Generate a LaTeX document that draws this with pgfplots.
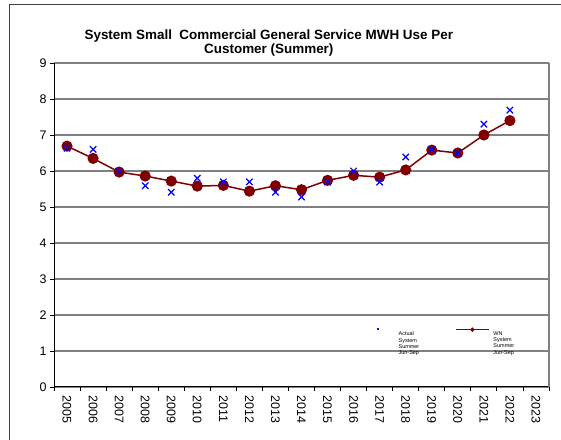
\documentclass[border=0pt]{standalone}
\usepackage{fontspec}
\setmainfont{Liberation Sans}
\usepackage{pgfplots}
\pgfplotsset{compat=1.18}
\definecolor{wnred}{RGB}{128,0,0}
\definecolor{gridgray}{RGB}{128,128,128}

\begin{document}
\begin{tikzpicture}
    \useasboundingbox (0bp,0bp) rectangle (561bp,440bp);
    % outer chart frame (right and bottom edges are cut off)
    \draw[black!75, line width=1bp] (9.5bp,-5bp) -- (9.5bp,435bp) -- (570bp,435bp);
    \begin{axis}[
            at={(54bp,53bp)}, anchor=south west,
            scale only axis,
            width=495bp, height=324bp,
            xmin=2004.5, xmax=2023.5,
            ymin=0, ymax=9,
            xtick={2005,...,2023},
            minor xtick={2004.5,2005.5,...,2023.5},
            ytick={0,...,9},
            major x tick style={draw=none},
            tick align=outside,
            major tick length=4bp,
            minor tick length=4bp,
            tick style={black, line width=0.8bp},
            ymajorgrids,
            major grid style={gridgray, line width=1.5bp},
            axis x line*=bottom,
            axis y line*=left,
            axis line style={black, line width=1bp, -},
            xticklabel style={rotate=-90, anchor=west, xshift=1bp},
            x tick label style={/pgf/number format/1000 sep={}},
            ticklabel style={font=\fontsize{12.5}{14}\selectfont},
            /pgf/number format/assume math mode=true,
            title={\bfseries System Small\ \ Commercial General Service MWH Use Per\\\bfseries Customer (Summer)},
            title style={at={(0.434,1)}, anchor=south, yshift=-2.5bp, align=center,
                font=\fontsize{13.5}{14}\selectfont},
            legend columns=2,
            legend style={at={(0.615,0.19)}, anchor=north west, draw=none, fill=none,
                font=\fontsize{5.5}{6.2}\selectfont,
                cells={anchor=north west, align=left},
                column sep=2bp,
                /tikz/every even column/.append style={column sep=34bp}},
            clip=false,
        ]
        % legend key for the actual values (the marks are drawn last, on top)
        \addlegendimage{legend image code/.code={
                \path[draw=none] (0bp,0bp) -- (33bp,0bp);
                \fill[blue, draw=none] (15.5bp,-0.8bp) rectangle (17.5bp,1.2bp);}}
        % WN System Summer Jun-Sep
        \addplot[wnred, line width=1.5bp, mark=*, mark size=4.8bp,
            mark options={fill=wnred},
            legend image code/.code={
                \draw[wnred, line width=1.2bp] (0bp,0bp) -- (33bp,0bp);
                \fill[wnred] (16.5bp,0bp) circle (1.3bp);}]
            coordinates {
                (2005,6.69) (2006,6.35) (2007,5.97) (2008,5.86) (2009,5.72)
                (2010,5.58) (2011,5.60) (2012,5.44) (2013,5.59) (2014,5.48)
                (2015,5.74) (2016,5.88) (2017,5.83) (2018,6.03) (2019,6.58)
                (2020,6.50) (2021,7.00) (2022,7.40)
            };
        % Actual System Summer Jun-Sep
        \addplot[only marks, blue, mark=x, mark size=4.5bp, line width=1.2bp, forget plot]
            coordinates {
                (2005,6.63) (2006,6.60) (2007,6.00) (2008,5.59) (2009,5.41)
                (2010,5.80) (2011,5.70) (2012,5.70) (2013,5.41) (2014,5.28)
                (2015,5.69) (2016,6.00) (2017,5.69) (2018,6.39) (2019,6.60)
                (2020,6.50) (2021,7.30) (2022,7.69)
            };
        \legend{Actual\\System\\Summer\\Jun-Sep, WN\\System\\Summer\\Jun-Sep}
        \draw[gridgray, line width=1.5bp] (rel axis cs:1,0) -- (rel axis cs:1,1);
    \end{axis}
\end{tikzpicture}
\end{document}
